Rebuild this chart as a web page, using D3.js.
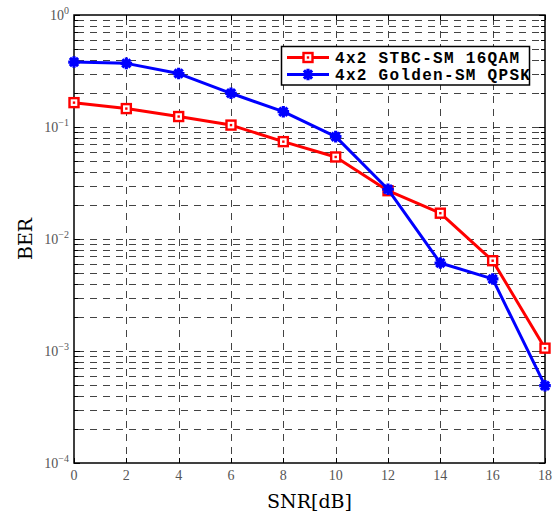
<!DOCTYPE html>
<html>
<head>
<meta charset="utf-8">
<script src="https://cdn.jsdelivr.net/npm/d3@7"></script>
<style>
  html, body { margin: 0; padding: 0; background: #fff; }
  svg { display: block; }
</style>
</head>
<body>
<svg id="chart" width="559" height="520"></svg>
<script>
// SNR points (dB)
const snr = [0, 2, 4, 6, 8, 10, 12, 14, 16, 18];
// BER curves
const berStbc16qam = [0.165, 0.146, 0.124, 0.104, 0.074, 0.054, 0.027, 0.017, 0.0064, 0.00106];
const berGoldenQpsk = [0.38, 0.37, 0.30, 0.20, 0.137, 0.082, 0.0278, 0.0061, 0.0044, 0.00049];
// series names
const seriesNames = ["4x2 STBC-SM 16QAM", "4x2 Golden-SM QPSK"];
// axis ticks
const xTicks = [0, 2, 4, 6, 8, 10, 12, 14, 16, 18];
const yDecades = [0, -1, -2, -3, -4];

const svg = d3.select("#chart");
const m = { left: 74, right: 545, top: 15, bottom: 463 };

const x = d3.scaleLinear().domain([0, 18]).range([m.left, m.right]);
const y = d3.scaleLog().domain([1e-4, 1]).range([m.bottom, m.top]);

// minor log grid values
const minorVals = [];
for (let e = -4; e < 0; e++) for (let k = 2; k <= 9; k++) minorVals.push(k * Math.pow(10, e));
const majorVals = yDecades.map(e => Math.pow(10, e));

const grid = svg.append("g")
  .attr("stroke", "#222").attr("stroke-width", 1)
  .attr("stroke-dasharray", "7,6").attr("stroke-opacity", 0.85);

// horizontal grid (major + minor)
grid.selectAll("line.h")
  .data(minorVals.concat(majorVals.filter(v => v > 1e-4 && v < 1)))
  .join("line")
  .attr("x1", m.left).attr("x2", m.right)
  .attr("y1", d => Math.round(y(d)) + 0.5).attr("y2", d => Math.round(y(d)) + 0.5)
  .attr("stroke-dashoffset", -3);

// vertical grid
grid.selectAll("line.v")
  .data(xTicks.filter(v => v > 0 && v < 18))
  .join("line")
  .attr("x1", d => Math.round(x(d)) + 0.5).attr("x2", d => Math.round(x(d)) + 0.5)
  .attr("y1", m.top).attr("y2", m.bottom)
  .attr("stroke-dashoffset", -3);

// inward ticks on all four sides
const ticks = svg.append("g").attr("stroke", "#000").attr("stroke-width", 1);
xTicks.forEach(v => {
  const px = Math.round(x(v)) + 0.5;
  ticks.append("line").attr("x1", px).attr("x2", px).attr("y1", m.bottom).attr("y2", m.bottom - 5);
  ticks.append("line").attr("x1", px).attr("x2", px).attr("y1", m.top).attr("y2", m.top + 5);
});
majorVals.concat(minorVals).forEach(v => {
  const py = Math.round(y(v)) + 0.5;
  const len = majorVals.includes(v) ? 6 : 4;
  ticks.append("line").attr("x1", m.left).attr("x2", m.left + len).attr("y1", py).attr("y2", py);
  ticks.append("line").attr("x1", m.right).attr("x2", m.right - len).attr("y1", py).attr("y2", py);
});

// frame
svg.append("rect")
  .attr("x", m.left).attr("y", m.top)
  .attr("width", m.right - m.left).attr("height", m.bottom - m.top)
  .attr("fill", "none").attr("stroke", "#000").attr("stroke-width", 1.5);

// x tick labels
svg.append("g").selectAll("text")
  .data(xTicks).join("text")
  .attr("x", d => x(d)).attr("y", 480)
  .attr("text-anchor", "middle")
  .attr("font-family", "Liberation Serif, serif").attr("font-size", 14)
  .attr("fill", "#555")
  .text(d => d);

// y tick labels 10^e
const yl = svg.append("g").selectAll("text")
  .data(yDecades).join("text")
  .attr("x", 69).attr("y", d => y(Math.pow(10, d)) + 5)
  .attr("text-anchor", "end")
  .attr("font-family", "Liberation Serif, serif").attr("font-size", 14)
  .attr("fill", "#555");
yl.append("tspan").text("10");
yl.append("tspan").attr("dy", -6).attr("font-size", 10)
  .text(d => d === 0 ? "0" : "\u2212" + Math.abs(d));

// axis titles
svg.append("text")
  .attr("x", (m.left + m.right) / 2).attr("y", 508)
  .attr("text-anchor", "middle")
  .attr("font-family", "DejaVu Serif, serif").attr("font-size", 19)
  .attr("fill", "#000")
  .text("SNR[dB]");
svg.append("text")
  .attr("transform", `translate(32,${(m.top + m.bottom) / 2}) rotate(-90)`)
  .attr("text-anchor", "middle")
  .attr("font-family", "DejaVu Serif, serif").attr("font-size", 19)
  .attr("fill", "#000")
  .text("BER");

// series
const series = [
  { name: seriesNames[0], values: berStbc16qam, color: "#ff0000", marker: "square" },
  { name: seriesNames[1], values: berGoldenQpsk, color: "#0000ff", marker: "star" }
];

const line = d3.line().x(d => x(d[0])).y(d => y(d[1]));

function drawMarker(g, kind, color) {
  if (kind === "square") {
    g.append("rect").attr("x", -4.5).attr("y", -4.5).attr("width", 9).attr("height", 9)
      .attr("fill", "#fff").attr("stroke", color).attr("stroke-width", 2.4);
    g.append("rect").attr("x", -1.2).attr("y", -1.2).attr("width", 2.4).attr("height", 2.4)
      .attr("fill", color);
  } else {
    const r = 5.8, q = r * Math.SQRT1_2;
    g.append("path")
      .attr("d", `M${-r},0L${r},0M0,${-r}L0,${r}M${-q},${-q}L${q},${q}M${-q},${q}L${q},${-q}`)
      .attr("stroke", color).attr("stroke-width", 3.2).attr("fill", "none");
    g.append("circle").attr("r", 3.2).attr("fill", color);
  }
}

series.forEach(s => {
  const pts = snr.map((v, i) => [v, s.values[i]]);
  svg.append("path")
    .datum(pts)
    .attr("d", line)
    .attr("fill", "none").attr("stroke", s.color).attr("stroke-width", 3)
    .attr("stroke-linejoin", "round");
  svg.append("g").selectAll("g")
    .data(pts).join("g")
    .attr("transform", d => `translate(${x(d[0])},${y(d[1])})`)
    .each(function () { drawMarker(d3.select(this), s.marker, s.color); });
});

// legend
const lg = svg.append("g");
lg.append("rect")
  .attr("x", 281.5).attr("y", 46.5).attr("width", 248).attr("height", 38.5)
  .attr("fill", "#fff").attr("stroke", "#000").attr("stroke-width", 1.5);
series.forEach((s, i) => {
  const ly = 57.5 + i * 17;
  lg.append("line").attr("x1", 287).attr("x2", 329).attr("y1", ly).attr("y2", ly)
    .attr("stroke", s.color).attr("stroke-width", 3);
  const mg = lg.append("g").attr("transform", `translate(308,${ly})`);
  drawMarker(mg, s.marker, s.color);
  lg.append("text")
    .attr("x", 335).attr("y", ly + 5)
    .attr("font-family", "Liberation Mono, monospace").attr("font-weight", "bold")
    .attr("font-size", 16).attr("letter-spacing", 1.3)
    .attr("fill", "#000")
    .text(s.name);
});
</script>
</body>
</html>
